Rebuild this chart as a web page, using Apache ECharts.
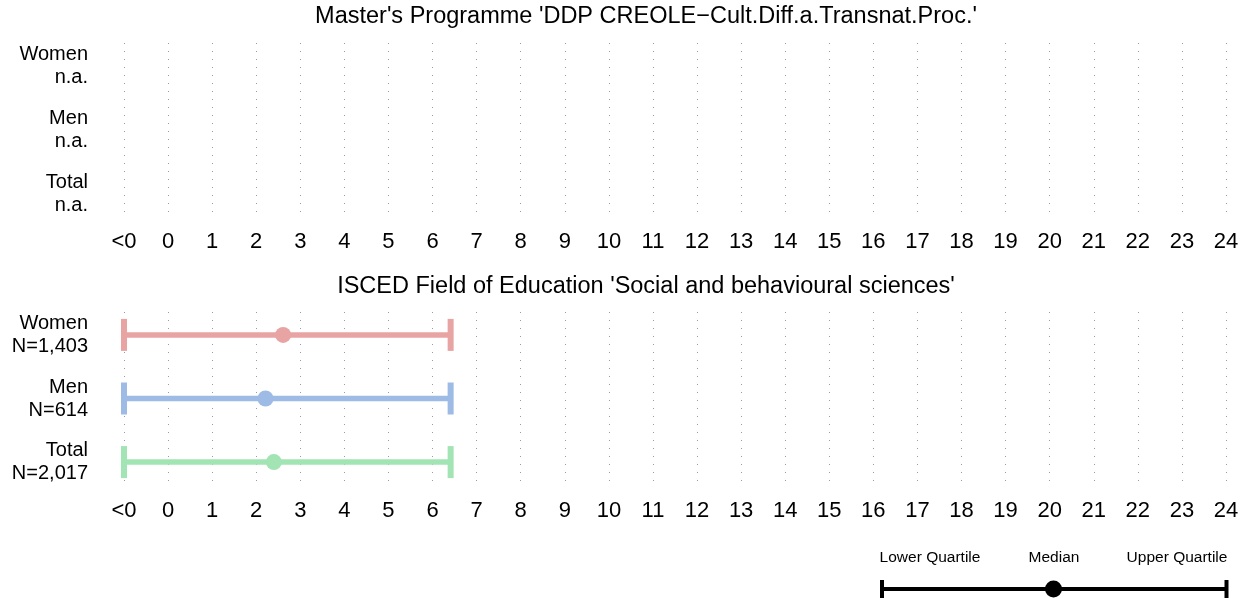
<!DOCTYPE html>
<html>
<head>
<meta charset="utf-8">
<script src="https://cdn.jsdelivr.net/npm/echarts@6/dist/echarts.min.js"></script>
<style>
html,body{margin:0;padding:0;background:#fff;}
#chart{width:1250px;height:598px;}
</style>
</head>
<body>
<div id="chart"></div>
<script>
// ---- data ----
const titles = [
  "Master's Programme 'DDP CREOLE\u2212Cult.Diff.a.Transnat.Proc.'",
  "ISCED Field of Education 'Social and behavioural sciences'"
];
const groups = ['Women', 'Men', 'Total'];
const topCounts = ['n.a.', 'n.a.', 'n.a.'];
const bottomCounts = ['N=1,403', 'N=614', 'N=2,017'];
const xTickValues = [-1,0,1,2,3,4,5,6,7,8,9,10,11,12,13,14,15,16,17,18,19,20,21,22,23,24];
const xTickLabels = ['<0','0','1','2','3','4','5','6','7','8','9','10','11','12','13','14','15','16','17','18','19','20','21','22','23','24'];
const lowerQ = [-1, -1, -1];
const medianV = [2.61, 2.21, 2.40];
const upperQ = [6.41, 6.41, 6.41];
const legendLabels = ['Lower Quartile', 'Median', 'Upper Quartile'];

// ---- styles ----
const FONT = "'Liberation Sans', Arial, Helvetica, sans-serif";
const groupColors = ['#E8A3A3', '#9DBBE4', '#A2E4B3'];

const chart = echarts.init(document.getElementById('chart'), null, {renderer: 'canvas'});

function xAxisCfg(gi, margin) {
  return {
    type: 'value', gridIndex: gi, min: -1, max: 24, interval: 1,
    axisLine: {show: false}, axisTick: {show: false},
    axisLabel: {
      color: '#000', fontSize: 22, fontFamily: FONT, margin: margin,
      showMinLabel: true, showMaxLabel: true,
      formatter: v => { const i = xTickValues.indexOf(v); return i >= 0 ? xTickLabels[i] : ''; }
    },
    splitLine: {show: true, lineStyle: {color: '#9a9a9a', width: 1, type: [1, 7]}}
  };
}
function yAxisCfg(gi, counts) {
  return {
    type: 'value', gridIndex: gi, min: -0.36, max: 2.36, inverse: true,
    axisLine: {show: false}, axisTick: {show: false}, splitLine: {show: false},
    axisLabel: {
      customValues: [0, 1, 2],
      color: '#000', fontSize: 20, fontFamily: FONT, lineHeight: 23, margin: 36, align: 'right',
      formatter: v => groups[v] + '\n' + counts[v]
    }
  };
}

const bottomData = groups.map((g, i) => [i, lowerQ[i], medianV[i], upperQ[i]]);

option = {
  animation: false,
  backgroundColor: '#fff',
  title: [
    {text: titles[0], left: 646, top: 5, textAlign: 'center', padding: 0,
     textStyle: {fontSize: 23.5, fontWeight: 'normal', color: '#000', fontFamily: FONT}},
    {text: titles[1], left: 646, top: 275, textAlign: 'center', padding: 0,
     textStyle: {fontSize: 23.5, fontWeight: 'normal', color: '#000', fontFamily: FONT}}
  ],
  grid: [
    {left: 124, right: 24, top: 43, height: 174},
    {left: 124, right: 24, top: 312, height: 173}
  ],
  xAxis: [xAxisCfg(0, 14), xAxisCfg(1, 15)],
  yAxis: [yAxisCfg(0, topCounts), yAxisCfg(1, bottomCounts)],
  series: [
    {
      type: 'custom', xAxisIndex: 0, yAxisIndex: 0, data: [],
      renderItem: () => null
    },
    {
      type: 'custom', xAxisIndex: 1, yAxisIndex: 1,
      data: bottomData,
      encode: {x: [1, 2, 3], y: 0},
      renderItem: function (params, api) {
        const y = api.value(0), lo = api.value(1), md = api.value(2), hi = api.value(3);
        const p1 = api.coord([lo, y]), p2 = api.coord([hi, y]), pm = api.coord([md, y]);
        const c = groupColors[params.dataIndex];
        const capW = 6, capH = 32;
        return {
          type: 'group',
          children: [
            {type: 'line', shape: {x1: p1[0], y1: p1[1], x2: p2[0], y2: p2[1]},
             style: {stroke: c, lineWidth: 5.5, lineCap: 'butt'}},
            {type: 'rect', shape: {x: p1[0] - capW / 2, y: p1[1] - capH / 2, width: capW, height: capH},
             style: {fill: c}},
            {type: 'rect', shape: {x: p2[0] - capW / 2, y: p2[1] - capH / 2, width: capW, height: capH},
             style: {fill: c}},
            {type: 'circle', shape: {cx: pm[0], cy: pm[1], r: 8}, style: {fill: c}}
          ]
        };
      }
    }
  ],
  graphic: [
    {type: 'line', shape: {x1: 881.5, y1: 589, x2: 1226.5, y2: 589}, style: {stroke: '#000', lineWidth: 4}},
    {type: 'rect', shape: {x: 880, y: 580, width: 4, height: 20}, style: {fill: '#000'}},
    {type: 'rect', shape: {x: 1224.5, y: 580, width: 4, height: 20}, style: {fill: '#000'}},
    {type: 'circle', shape: {cx: 1053.5, cy: 589, r: 8.5}, style: {fill: '#000'}},
    {type: 'text', x: 930, y: 558, style: {text: legendLabels[0], fill: '#000', font: '15.5px ' + FONT, align: 'center', verticalAlign: 'middle'}},
    {type: 'text', x: 1054, y: 558, style: {text: legendLabels[1], fill: '#000', font: '15.5px ' + FONT, align: 'center', verticalAlign: 'middle'}},
    {type: 'text', x: 1177, y: 558, style: {text: legendLabels[2], fill: '#000', font: '15.5px ' + FONT, align: 'center', verticalAlign: 'middle'}}
  ]
};
chart.setOption(option);
</script>
</body>
</html>
